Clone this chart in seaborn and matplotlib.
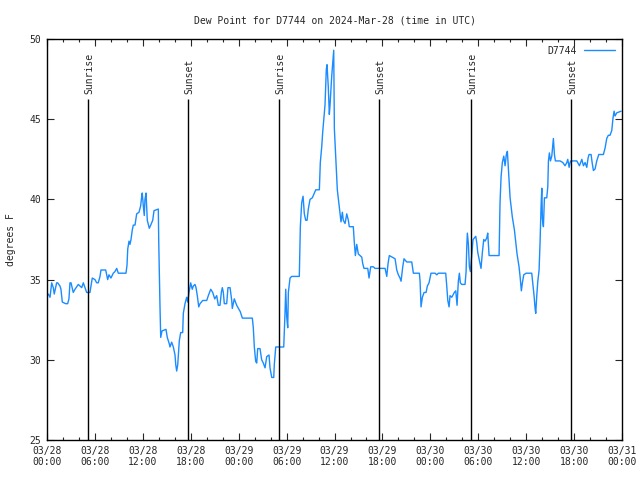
import pandas as pd
import matplotlib
matplotlib.use("Agg")
import matplotlib.pyplot as plt
import matplotlib.dates as mdates
import seaborn as sns

# Dew point readings, hours after 2024-03-28 00:00 UTC
hours = [0.16, 0.38, 0.59, 0.79, 0.91, 1.21, 1.34, 1.63, 1.75, 1.92, 2.34, 2.59, 2.75, 2.88,
         3.01, 3.29, 3.51, 3.92, 4.13, 4.35, 4.55, 4.76, 4.97, 5.38, 5.51, 5.67, 6.01, 6.22,
         6.42, 6.64, 6.76, 7.35, 7.60, 7.76, 8.01, 8.30, 8.51, 8.73, 8.93, 9.89, 10.02, 10.11,
         10.27, 10.39, 10.52, 10.68, 10.81, 11.02, 11.14, 11.23, 11.52, 11.73, 11.86, 11.93,
         12.06, 12.18, 12.27, 12.40, 12.48, 12.56, 12.81, 12.99, 13.24, 13.40, 13.94, 13.99,
         14.15, 14.24, 14.40, 14.90, 15.06, 15.31, 15.40, 15.61, 15.82, 16.03, 16.12, 16.24,
         16.37, 16.57, 16.74, 16.99, 17.07, 17.28, 17.49, 17.62, 17.78, 17.99, 18.19, 18.32,
         18.53, 18.66, 18.82, 19.00, 19.16, 19.50, 20.00, 20.20, 20.50, 20.75, 21.00, 21.25,
         21.45, 21.66, 21.83, 21.95, 22.08, 22.20, 22.50, 22.66, 22.92, 23.13, 23.20, 23.45,
         23.75, 24.08, 24.20, 24.46, 25.71, 25.83, 25.96, 26.13, 26.26, 26.38, 26.67, 26.88,
         27.08, 27.30, 27.51, 27.80, 27.92, 28.14, 28.39, 28.46, 28.64, 29.64, 29.71, 29.80,
         29.89, 30.01, 30.14, 30.22, 30.43, 30.64, 31.59, 31.72, 31.89, 32.06, 32.22, 32.39,
         32.56, 32.72, 32.93, 33.22, 33.47, 33.65, 34.10, 34.22, 34.40, 34.52, 34.65, 34.81,
         34.97, 35.06, 35.22, 35.35, 35.44, 35.65, 35.77, 35.90, 35.98, 36.19, 36.35, 36.53,
         36.69, 36.81, 36.98, 37.10, 37.32, 37.53, 37.73, 37.85, 38.35, 38.48, 38.61, 38.78,
         38.98, 39.41, 39.53, 39.69, 40.16, 40.32, 40.53, 40.86, 41.07, 42.33, 42.54, 42.70,
         42.86, 43.58, 43.79, 43.99, 44.20, 44.33, 44.54, 44.70, 45.04, 45.67, 45.87, 46.62,
         46.71, 46.83, 47.00, 47.21, 47.46, 47.62, 47.83, 48.08, 48.25, 48.59, 48.80, 49.00,
         49.92, 50.05, 50.18, 50.34, 50.46, 50.68, 51.00, 51.18, 51.34, 51.50, 51.63, 51.75,
         51.93, 52.34, 52.47, 52.56, 52.63, 52.76, 52.88, 53.01, 53.19, 53.34, 53.51, 53.68,
         53.81, 53.93, 54.13, 54.34, 54.51, 54.68, 54.85, 55.06, 55.18, 55.35, 56.60, 56.72,
         56.85, 57.01, 57.19, 57.35, 57.51, 57.64, 57.76, 57.98, 58.26, 58.52, 58.69, 58.85,
         59.10, 59.23, 59.39, 59.52, 59.69, 59.98, 60.69, 60.82, 60.98, 61.11, 61.19, 61.32,
         61.45, 61.61, 61.73, 61.86, 61.95, 62.02, 62.15, 62.28, 62.57, 62.70, 62.78, 62.90,
         63.03, 63.20, 63.33, 63.40, 63.53, 63.65, 64.24, 64.58, 64.86, 65.08, 65.20, 65.37,
         65.49, 65.58, 66.33, 66.66, 66.96, 67.16, 67.37, 67.58, 67.75, 67.87, 68.12, 68.25,
         68.41, 68.62, 68.83, 69.08, 69.66, 69.87, 70.08, 70.28, 70.49, 70.71, 70.87, 71.00,
         71.12, 71.34, 71.88]
dewpt = [34.1, 33.9, 34.8, 34.5, 34.1, 34.8, 34.8, 34.6, 34.4, 33.6, 33.5, 33.5, 33.8, 34.8,
         34.8, 34.2, 34.4, 34.7, 34.6, 34.5, 34.8, 34.5, 34.2, 34.2, 34.6, 35.1, 35.0, 34.8,
         34.8, 35.2, 35.6, 35.6, 35.0, 35.3, 35.1, 35.4, 35.5, 35.7, 35.4, 35.4, 35.9, 36.9,
         37.4, 37.2, 37.5, 38.1, 38.4, 38.4, 38.8, 39.1, 39.2, 39.6, 40.2, 40.4, 39.6, 39.0,
         40.0, 40.4, 39.6, 38.7, 38.2, 38.4, 38.7, 39.3, 39.4, 37.4, 33.3, 31.4, 31.8, 31.9,
         31.4, 31.0, 30.8, 31.1, 30.8, 30.3, 29.7, 29.3, 29.7, 31.2, 31.7, 31.7, 32.9, 33.5,
         33.9, 33.6, 34.2, 34.8, 34.4, 34.6, 34.7, 34.5, 34.0, 33.3, 33.5, 33.7, 33.7, 34.0,
         34.4, 34.2, 33.8, 34.0, 33.4, 33.4, 34.2, 34.5, 34.2, 33.5, 33.5, 34.5, 34.5, 33.7,
         33.2, 33.8, 33.4, 33.1, 33.0, 32.6, 32.6, 32.0, 30.8, 29.9, 29.8, 30.7, 30.7, 30.0,
         29.8, 29.5, 30.2, 30.3, 29.5, 28.9, 28.9, 29.7, 30.8, 30.8, 31.7, 32.9, 34.4, 32.7,
         32.0, 34.2, 35.1, 35.2, 35.2, 38.3, 39.8, 40.2, 39.1, 38.7, 38.7, 39.4, 40.0, 40.1,
         40.4, 40.6, 40.6, 42.3, 43.3, 44.2, 45.0, 45.9, 48.1, 48.4, 47.0, 45.3, 45.9, 47.7,
         48.5, 49.3, 44.4, 42.3, 40.6, 39.8, 39.1, 38.6, 39.2, 38.7, 38.5, 39.1, 38.7, 38.3,
         38.3, 37.3, 36.5, 37.2, 36.6, 36.4, 36.0, 35.7, 35.7, 35.1, 35.8, 35.8, 35.7, 35.7,
         35.2, 36.0, 36.5, 36.3, 35.6, 35.3, 35.1, 34.9, 35.8, 36.3, 36.1, 36.1, 35.4, 35.4,
         34.9, 33.3, 33.9, 34.2, 34.2, 34.6, 34.8, 35.4, 35.4, 35.4, 35.3, 35.4, 35.4, 34.6,
         33.7, 33.3, 34.0, 33.9, 34.2, 34.3, 33.4, 34.9, 35.4, 34.8, 34.7, 34.7, 35.5, 37.1,
         37.9, 37.2, 35.8, 35.5, 36.6, 37.5, 37.6, 37.7, 37.3, 36.7, 36.2, 35.7, 36.7, 37.5,
         37.4, 37.6, 37.9, 36.5, 36.5, 39.8, 41.4, 42.3, 42.7, 42.1, 42.8, 43.0, 42.0, 40.1,
         38.9, 38.1, 37.3, 36.6, 35.8, 35.2, 34.3, 34.8, 35.3, 35.4, 35.4, 34.8, 34.0, 33.2,
         32.9, 34.0, 34.9, 35.6, 37.3, 39.6, 40.7, 38.8, 38.3, 40.1, 40.1, 40.8, 42.4, 42.9,
         42.4, 42.7, 43.4, 43.8, 42.8, 42.4, 42.4, 42.3, 42.1, 42.3, 42.5, 42.0, 42.3, 42.4,
         42.4, 42.1, 42.5, 42.1, 42.3, 42.0, 42.6, 42.8, 42.8, 42.3, 41.8, 41.9, 42.4, 42.8,
         42.8, 43.2, 43.8, 44.0, 44.0, 44.3, 45.1, 45.5, 45.2, 45.4, 45.5]

sun_hours = [5.17, 17.7, 29.09, 41.6, 53.13, 65.65]
sun_labels = ["Sunrise", "Sunset", "Sunrise", "Sunset", "Sunrise", "Sunset"]

start = pd.Timestamp("2024-03-28 00:00")
df = pd.DataFrame({"time": start + pd.to_timedelta(hours, unit="h"), "dewpt": dewpt})

sns.set_style("ticks")
plt.rcParams["font.family"] = ["DejaVu Sans Mono"]
plt.rcParams["font.size"] = 7

fig = plt.figure(figsize=(6.4, 4.8), dpi=100)
ax = fig.add_axes([0.0734, 0.0833, 0.8986, 0.8354])

sns.lineplot(data=df, x="time", y="dewpt", ax=ax, color="#1a8cff",
             linewidth=1, label="D7744")

for h, lab in zip(sun_hours, sun_labels):
    t = start + pd.Timedelta(hours=h)
    ax.vlines(t, 25, 46.25, color="black", linewidth=1)
    ax.text(t + pd.Timedelta(minutes=10), 46.6, lab, rotation=90,
            ha="center", va="bottom", fontsize=7)

ax.set_xlim(start, start + pd.Timedelta(hours=72))
ax.set_ylim(25, 50)
ax.set_yticks([25, 30, 35, 40, 45, 50])
ax.xaxis.set_major_locator(mdates.HourLocator(byhour=[0, 6, 12, 18]))
ax.xaxis.set_minor_locator(mdates.HourLocator(byhour=range(0, 24, 2)))
ax.xaxis.set_major_formatter(mdates.DateFormatter("%m/%d\n%H:%M"))
ax.tick_params(axis="both", which="major", direction="in", length=5, width=0.8,
               top=True, right=True, labelsize=7, pad=4)
ax.tick_params(axis="x", which="minor", direction="in", length=2.5, width=0.8, top=True)
for sp in ax.spines.values():
    sp.set_color("black")
    sp.set_linewidth(1)

ax.set_xlabel("")
ax.set_ylabel("degrees F", fontsize=7, labelpad=10)
ax.set_title("Dew Point for D7744 on 2024-Mar-28 (time in UTC)", fontsize=7, pad=11)

ax.legend(loc="upper right", frameon=False, markerfirst=False, handlelength=3.2,
          fontsize=7, borderaxespad=0.3)

fig.savefig("out.png", dpi=100)
